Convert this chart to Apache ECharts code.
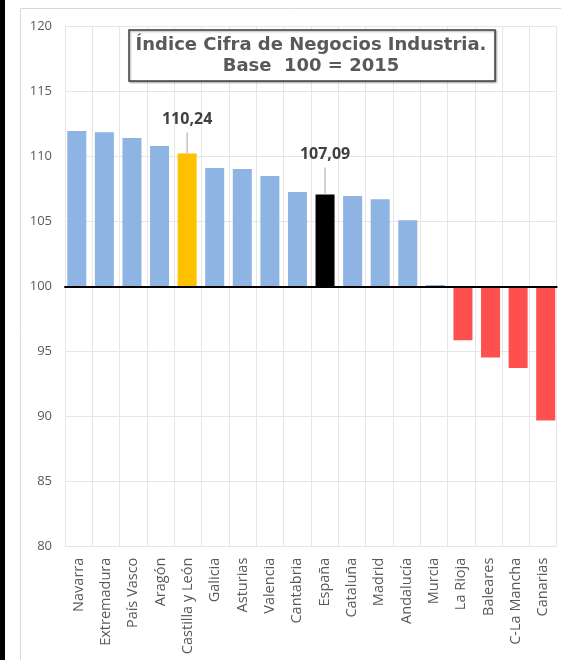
<!DOCTYPE html>
<html>
<head>
<meta charset="utf-8">
<script src="https://cdn.jsdelivr.net/npm/echarts@6/dist/echarts.min.js"></script>
<style>
html,body{margin:0;padding:0;background:#ffffff;}
#chart{width:561px;height:660px;}
</style>
</head>
<body>
<div id="chart"></div>
<script>
// ---- data ----
const categories = ['Navarra','Extremadura','País Vasco','Aragón','Castilla y León','Galicia','Asturias','Valencia','Cantabria','España','Cataluña','Madrid','Andalucía','Murcia','La Rioja','Baleares','C-La Mancha','Canarias'];
const values = [111.98,111.88,111.44,110.82,110.24,109.13,109.05,108.52,107.28,107.09,106.98,106.73,105.12,100.13,95.88,94.56,93.74,89.70];
const baseValue = 100;
const yMin = 80;
const yMax = 120;
const yStep = 5;
const labelledCategories = ['Castilla y León','España'];
const titleLines = ['Índice Cifra de Negocios Industria.', 'Base  100 = 2015'];

// ---- styles ----
const colorPositive = '#8EB4E3';
const colorNegative = '#FF5050';
const highlightColors = {'Castilla y León':'#FFC000','España':'#000000'};
const leaderHeights = {'Castilla y León':21,'España':27};
const textGray = '#595959';
const gridGray = '#e6e6e6';

const fmt = v => v.toFixed(2).replace('.', ',');

const barData = values.map((v, i) => {
  const name = categories[i];
  const item = {
    value: +(v - baseValue).toFixed(2),
    itemStyle: {color: highlightColors[name] || (v < baseValue ? colorNegative : colorPositive)}
  };
  if (labelledCategories.includes(name)) {
    const h = leaderHeights[name];
    item.label = {
      show: true,
      position: 'top',
      distance: 0,
      formatter: p => '{v|' + fmt(values[p.dataIndex]) + '}\n{l| }',
      rich: {
        v: {fontFamily: 'Open Sans', fontWeight: 'bold', fontSize: 16, color: '#404040', lineHeight: 27, align: 'center'},
        l: {width: 1, height: h, lineHeight: h, backgroundColor: '#a6a6a6', align: 'center'}
      }
    };
  }
  return item;
});

const chart = echarts.init(document.getElementById('chart'), null, {renderer: 'canvas'});
const gridTop = 26.7, gridBottom = 113.3;
chart.setOption({
  animation: false,
  backgroundColor: '#ffffff',
  grid: [
    {left: 63, right: 1.5, top: gridTop, bottom: gridBottom, containLabel: false},
    {left: 65, right: 4.3, top: gridTop, bottom: gridBottom, containLabel: false}
  ],
  xAxis: [
    {type: 'category', gridIndex: 0, data: categories, show: false, axisLine: {onZero: false}},
    {type: 'category', gridIndex: 1, data: categories, z: 0, position: 'bottom',
      axisLine: {show: false, onZero: false}, axisTick: {show: false}, axisLabel: {show: false},
      splitLine: {show: true, interval: 0, lineStyle: {color: gridGray, width: 1}}},
    {type: 'category', gridIndex: 1, data: categories, position: 'bottom',
      axisLine: {show: false, onZero: false}, axisTick: {show: false}, splitLine: {show: false},
      axisLabel: {show: true, interval: 0, rotate: 90, margin: 11, color: textGray,
        fontFamily: 'Open Sans', fontSize: 14.5, padding: [3, 0, 0, 0]}},
    {type: 'category', gridIndex: 1, data: categories, z: 10, position: 'bottom',
      axisLine: {show: true, onZero: true, lineStyle: {color: '#000000', width: 2}},
      axisTick: {show: false}, axisLabel: {show: false}, splitLine: {show: false}}
  ],
  yAxis: [
    {type: 'value', gridIndex: 0, min: yMin - baseValue, max: yMax - baseValue, interval: yStep, show: false},
    {type: 'value', gridIndex: 1, min: yMin - baseValue, max: yMax - baseValue, interval: yStep,
      axisLine: {show: false, onZero: false}, axisTick: {show: false},
      axisLabel: {color: textGray, fontFamily: 'Open Sans', fontSize: 13, margin: 13,
        formatter: v => String(v + baseValue)},
      splitLine: {show: true, lineStyle: {color: gridGray, width: 1}}}
  ],
  series: [{
    type: 'bar',
    xAxisIndex: 0,
    yAxisIndex: 0,
    barWidth: 19,
    z: 2,
    data: barData,
    label: {show: false}
  }],
  graphic: [
    {type: 'rect', shape: {x: 0, y: 0, width: 5, height: 660}, style: {fill: '#000000'}, z: 100},
    {type: 'rect', shape: {x: 20.5, y: 8.5, width: 560, height: 680}, style: {fill: 'none', stroke: '#d9d9d9', lineWidth: 1}, z: -1, silent: true},
    {type: 'rect', shape: {x: 129, y: 30, width: 366, height: 51},
      style: {fill: '#ffffff', stroke: '#404040', lineWidth: 1.5, shadowBlur: 2, shadowOffsetX: 1, shadowOffsetY: 1, shadowColor: 'rgba(0,0,0,0.35)'}, z: 50},
    {type: 'text', x: 311, y: 56, z: 51,
      style: {text: titleLines.join('\n'), fill: textGray, font: 'bold 18px "DejaVu Sans"', align: 'center', verticalAlign: 'middle', lineHeight: 21}}
  ]
});
</script>
</body>
</html>
